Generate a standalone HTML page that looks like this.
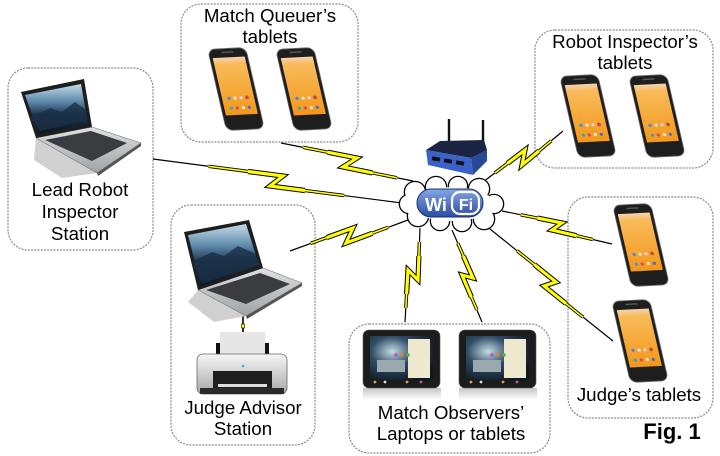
<!DOCTYPE html>
<html><head><meta charset="utf-8"><style>
html,body{margin:0;padding:0;background:#fff}
svg{display:block}
.box{fill:none;stroke:#8a8a8a;stroke-width:1.2;stroke-dasharray:2 1.2}
.lbl{font-family:"Liberation Sans",Arial,sans-serif;font-size:18.7px;fill:#000;text-anchor:middle}
.t{fill:none;stroke:#000;stroke-width:1.2;stroke-linejoin:miter;stroke-miterlimit:10}
.mb{fill:none;stroke:#000;stroke-width:3.4;stroke-linejoin:miter;stroke-miterlimit:10}
.wb{fill:none;stroke:#000;stroke-width:5.2;stroke-linejoin:miter;stroke-miterlimit:10}
.my{fill:none;stroke:#ffff00;stroke-width:1.6;stroke-linejoin:miter;stroke-miterlimit:10}
.wy{fill:none;stroke:#ffff00;stroke-width:3.2;stroke-linejoin:miter;stroke-miterlimit:10}
</style></head><body>
<svg width="720" height="456" viewBox="0 0 720 456" xmlns="http://www.w3.org/2000/svg">
<defs>
<linearGradient id="orange" x1="0" y1="0" x2="0" y2="1">
<stop offset="0" stop-color="#f6d2b0"/><stop offset="0.12" stop-color="#f8bb5a"/><stop offset="1" stop-color="#f3981a"/>
</linearGradient>
<linearGradient id="lscreen" x1="0" y1="0" x2="0" y2="1">
<stop offset="0" stop-color="#c4dbea"/><stop offset="0.35" stop-color="#5f8aab"/><stop offset="0.6" stop-color="#1d3652"/><stop offset="1" stop-color="#0a1522"/>
</linearGradient>
<linearGradient id="silver" x1="0" y1="0" x2="0" y2="1">
<stop offset="0" stop-color="#dfe1e3"/><stop offset="1" stop-color="#9ea2a6"/>
</linearGradient>
<radialGradient id="tscreen" cx="0.35" cy="0.35" r="0.75">
<stop offset="0" stop-color="#c6dae6"/><stop offset="0.45" stop-color="#2e4c64"/><stop offset="1" stop-color="#0e1822"/>
</radialGradient>
<linearGradient id="wifi" x1="0" y1="0" x2="0" y2="1">
<stop offset="0" stop-color="#86a6e4"/><stop offset="1" stop-color="#2a4ca4"/>
</linearGradient>
<linearGradient id="pbody" x1="0" y1="0" x2="0" y2="1">
<stop offset="0" stop-color="#f6f6f6"/><stop offset="1" stop-color="#a8a8a8"/>
</linearGradient>
<linearGradient id="refl" x1="0" y1="0" x2="0" y2="1">
<stop offset="0" stop-color="#b8b8b8"/><stop offset="1" stop-color="#ffffff"/>
</linearGradient>
<g id="phone">
<rect x="-19" y="-41" width="38" height="82" rx="7" fill="#1e1e1e" stroke="#6a6a6a" stroke-width="0.8"/>
<rect x="-16" y="-32" width="32" height="58" fill="url(#orange)"/>
<rect x="-6" y="-38" width="12" height="1.5" fill="#555"/>
<circle cx="-9" cy="9" r="1.6" fill="#4a8ad8"/><circle cx="-3" cy="9" r="1.6" fill="#e6e6e6"/><circle cx="3" cy="9" r="1.6" fill="#d8d8e8"/><circle cx="9" cy="9" r="1.8" fill="#c04a3a"/>
<circle cx="-9" cy="19" r="1.6" fill="#3aa0d0"/><circle cx="-3" cy="19" r="1.6" fill="#d04a6a"/><circle cx="3" cy="19" r="1.6" fill="#e6e6e6"/><circle cx="9" cy="19" r="1.6" fill="#4a6ad0"/>
</g>
<g id="tablet">
<rect x="0" y="58" width="78" height="12" fill="url(#refl)" opacity="0.8"/>
<rect x="0" y="0" width="77" height="58" rx="6" fill="#1c1c1c" stroke="#555" stroke-width="0.6"/>
<rect x="7" y="6" width="63" height="44" fill="url(#tscreen)"/>
<rect x="45" y="9" width="22" height="39" fill="#efe9cf"/>
<rect x="14" y="30" width="28" height="12" fill="#9aa8b0"/>
<circle cx="33" cy="25" r="1.8" fill="#c050c0"/><circle cx="39" cy="25" r="1.8" fill="#e08030"/><circle cx="45" cy="25" r="1.8" fill="#50b050"/>
<circle cx="12" cy="52" r="1.4" fill="#e0a040"/><circle cx="22" cy="52" r="1.4" fill="#ddd"/><circle cx="44" cy="52" r="1.4" fill="#e0a040"/><circle cx="58" cy="52" r="1.4" fill="#c050c0"/>
</g>
</defs>

<!-- boxes -->
<rect class="box" x="181" y="4" width="177" height="138" rx="20"/>
<rect class="box" x="8" y="68" width="145" height="182" rx="20"/>
<rect class="box" x="535" y="30" width="178" height="138" rx="20"/>
<rect class="box" x="171" y="205" width="144" height="240" rx="20"/>
<rect class="box" x="568" y="197" width="145" height="221" rx="20"/>
<rect class="box" x="349" y="324" width="201" height="129" rx="20"/>

<!-- connectors: black -->
<g>
<path class="t" d="M153,159 L283,176 L270,186 L402,203"/>
<path class="t" d="M281,143 L357,158 L343,167 L413,181"/>
<path class="t" d="M290,251 L353,228 L346,243 L408,220"/>
<path class="t" d="M483,182 L525,150 L522,165 L563,131"/>
<path class="t" d="M502,211 L562,223 L552,230 L612,244"/>
<path class="t" d="M485,225 L556,282 L544,286 L613,341"/>
<path class="t" d="M420,228 L418,280 L408,270 L405,322"/>
<path class="t" d="M452,230 L473,278 L462,275 L482,322"/>

<path class="mb" d="M208.6,166.3 L283,176 L270,186 L344.4,195.6"/>
<path class="mb" d="M303,147.3 L357,158 L343,167 L396.9,177.8"/>
<path class="mb" d="M310.7,243.4 L353,228 L346,243 L388.2,227.3"/>
<path class="mb" d="M494.8,173 L525,150 L522,165 L551.3,140.8"/>
<path class="mb" d="M520.8,214.8 L562,223 L552,230 L592.9,239.5"/>
<path class="mb" d="M517,250.7 L556,282 L544,286 L583.1,317.2"/>
<path class="mb" d="M419.4,242 L418,280 L408,270 L405.8,307.9"/>
<path class="mb" d="M457.8,243.2 L473,278 L462,275 L476.9,310"/>

<path class="wb" d="M248,171.5 L283,176 L270,186 L305,190.5"/>
<path class="wb" d="M327.6,152.2 L357,158 L343,167 L372.4,172.9"/>
<path class="wb" d="M326.7,237.6 L353,228 L346,243 L372.3,233.3"/>
<path class="wb" d="M507.5,163.3 L525,150 L522,165 L538.9,151"/>
<path class="wb" d="M537.5,218.1 L562,223 L552,230 L576.4,235.7"/>
<path class="wb" d="M534.2,264.5 L556,282 L544,286 L565.9,303.5"/>
<path class="wb" d="M418.9,256 L418,280 L408,270 L406.6,294"/>
<path class="wb" d="M463.4,256 L473,278 L462,275 L471.4,297.1"/>

<path class="my" d="M208.6,166.3 L283,176 L270,186 L344.4,195.6"/>
<path class="my" d="M303,147.3 L357,158 L343,167 L396.9,177.8"/>
<path class="my" d="M310.7,243.4 L353,228 L346,243 L388.2,227.3"/>
<path class="my" d="M494.8,173 L525,150 L522,165 L551.3,140.8"/>
<path class="my" d="M520.8,214.8 L562,223 L552,230 L592.9,239.5"/>
<path class="my" d="M517,250.7 L556,282 L544,286 L583.1,317.2"/>
<path class="my" d="M419.4,242 L418,280 L408,270 L405.8,307.9"/>
<path class="my" d="M457.8,243.2 L473,278 L462,275 L476.9,310"/>

<path class="wy" d="M248,171.5 L283,176 L270,186 L305,190.5"/>
<path class="wy" d="M327.6,152.2 L357,158 L343,167 L372.4,172.9"/>
<path class="wy" d="M326.7,237.6 L353,228 L346,243 L372.3,233.3"/>
<path class="wy" d="M507.5,163.3 L525,150 L522,165 L538.9,151"/>
<path class="wy" d="M537.5,218.1 L562,223 L552,230 L576.4,235.7"/>
<path class="wy" d="M534.2,264.5 L556,282 L544,286 L565.9,303.5"/>
<path class="wy" d="M418.9,256 L418,280 L408,270 L406.6,294"/>
<path class="wy" d="M463.4,256 L473,278 L462,275 L471.4,297.1"/>
</g>

<!-- laptop to printer cable -->
<line x1="243" y1="312" x2="243" y2="342" stroke="#000" stroke-width="1.6"/>
<rect x="241.5" y="324" width="3" height="4" fill="#ffff00" stroke="#000" stroke-width="0.6"/>

<!-- phones -->
<use href="#phone" transform="translate(236,89) rotate(-3) skewX(10)"/>
<use href="#phone" transform="translate(304,89) rotate(-3) skewX(10)"/>
<use href="#phone" transform="translate(588,116) rotate(-3) skewX(10)"/>
<use href="#phone" transform="translate(657,116) rotate(-3) skewX(10)"/>
<use href="#phone" transform="translate(641,245) rotate(-3) skewX(10)"/>
<use href="#phone" transform="translate(640,341) rotate(-3) skewX(10)"/>

<!-- Lead robot laptop -->
<polygon points="36,138 97,173 62,178 34,160" fill="#d0d0d0"/>
<polygon points="36,138 92,127 141,143 97,173" fill="url(#silver)" stroke="#777" stroke-width="0.6"/>
<polygon points="45,140 91,131 127,143 92,161" fill="#3a3c40"/>
<polygon points="97,173 141,143 141,146 98,176" fill="#555"/>
<polygon points="21,92 84,79 92,127 36,138" fill="#1e1e1e"/>
<polygon points="25,95 81,84 88,124 39,134" fill="url(#lscreen)"/>
<polygon points="30,118 50,108 62,112 75,102 86,110 87,120 40,131" fill="#1a2f45" opacity="0.8"/>

<!-- Judge advisor laptop -->
<polygon points="198,290 246,316 214,322 188,302" fill="#d0d0d0"/>
<polygon points="198,290 263,268 302,283 246,316" fill="url(#silver)" stroke="#777" stroke-width="0.6"/>
<polygon points="206,290 260,273 290,284 246,304" fill="#3a3c40"/>
<polygon points="246,316 302,283 302,286 247,319" fill="#555"/>
<polygon points="184,232 249,220 263,268 198,290" fill="#1e1e1e"/>
<polygon points="188,235 246,224 259,265 201,286" fill="url(#lscreen)"/>
<polygon points="192,262 212,252 224,256 238,246 256,254 258,264 202,284" fill="#1a2f45" opacity="0.8"/>

<!-- printer -->
<rect x="220" y="332" width="45" height="22" fill="#e6e6e6"/>
<rect x="216" y="343" width="4" height="13" fill="#111"/>
<rect x="265" y="343" width="4" height="13" fill="#111"/>
<rect x="197" y="354" width="90" height="40" rx="6" fill="url(#pbody)" stroke="#666" stroke-width="0.8"/>
<rect x="213" y="371" width="59" height="17" fill="#1e1e1e"/>
<rect x="200" y="388" width="84" height="6" fill="#2a2a2a"/>
<rect x="218" y="384" width="49" height="3" fill="#ddd"/>
<circle cx="243" cy="366" r="1.3" fill="#5aa0e0"/>

<!-- tablets -->
<use href="#tablet" transform="translate(363,330)"/>
<use href="#tablet" transform="translate(459,330)"/>

<!-- router -->
<line x1="449" y1="119" x2="449" y2="147" stroke="#111" stroke-width="2.4"/>
<line x1="483" y1="120" x2="483" y2="147" stroke="#111" stroke-width="2.4"/>
<polygon points="440,141 484,140 487,150 471,158 426,150" fill="#1b2440"/>
<polygon points="426,150 471,158 473,175 428,165" fill="#3b62c8"/>
<polygon points="471,158 487,150 487,161 473,175" fill="#2a4898"/>
<rect x="432" y="157" width="8" height="4" fill="#111" transform="rotate(10 436 159)"/>
<rect x="444" y="159" width="8" height="4" fill="#111" transform="rotate(10 448 161)"/>
<rect x="456" y="161" width="8" height="4" fill="#111" transform="rotate(10 460 163)"/>

<!-- cloud -->
<g fill="#fff" stroke="#000" stroke-width="2.6">
<circle cx="415" cy="192" r="10"/><circle cx="436" cy="187" r="10"/><circle cx="458" cy="186" r="9"/><circle cx="479" cy="189" r="10"/>
<circle cx="494" cy="204" r="9"/><circle cx="484" cy="219" r="10"/><circle cx="462" cy="222" r="9"/><circle cx="440" cy="221" r="9"/>
<circle cx="418" cy="216" r="10"/><circle cx="409" cy="204" r="9"/>
</g>
<g fill="#fff">
<circle cx="415" cy="192" r="10"/><circle cx="436" cy="187" r="10"/><circle cx="458" cy="186" r="9"/><circle cx="479" cy="189" r="10"/>
<circle cx="494" cy="204" r="9"/><circle cx="484" cy="219" r="10"/><circle cx="462" cy="222" r="9"/><circle cx="440" cy="221" r="9"/>
<circle cx="418" cy="216" r="10"/><circle cx="409" cy="204" r="9"/>
<ellipse cx="452" cy="204" rx="42" ry="17"/>
</g>
<rect x="417" y="189" width="66" height="28" rx="14" fill="url(#wifi)" stroke="#1a2f6a" stroke-width="1"/>
<rect x="452" y="192" width="27" height="22" rx="8" fill="none" stroke="#fff" stroke-width="2.2"/>
<text x="436" y="211" font-family="Liberation Sans, Arial, sans-serif" font-size="18" font-weight="bold" fill="#fff" text-anchor="middle">Wi</text>
<text x="466" y="210" font-family="Liberation Sans, Arial, sans-serif" font-size="16" font-weight="bold" fill="#fff" text-anchor="middle">Fi</text>

<!-- labels -->
<text class="lbl" x="270" y="22">Match Queuer’s</text>
<text class="lbl" x="270" y="43">tablets</text>
<text class="lbl" x="80" y="196">Lead Robot</text>
<text class="lbl" x="80" y="218">Inspector</text>
<text class="lbl" x="80" y="240">Station</text>
<text class="lbl" x="625" y="48">Robot Inspector’s</text>
<text class="lbl" x="625" y="69">tablets</text>
<text class="lbl" x="243" y="414">Judge Advisor</text>
<text class="lbl" x="243" y="435">Station</text>
<text class="lbl" x="451" y="419">Match Observers’</text>
<text class="lbl" x="451" y="440">Laptops or tablets</text>
<text class="lbl" x="639" y="401">Judge’s tablets</text>
<text x="672" y="439" font-family="Liberation Sans, Arial, sans-serif" font-size="22" font-weight="bold" text-anchor="middle" fill="#000">Fig. 1</text>
</svg>
</body></html>
